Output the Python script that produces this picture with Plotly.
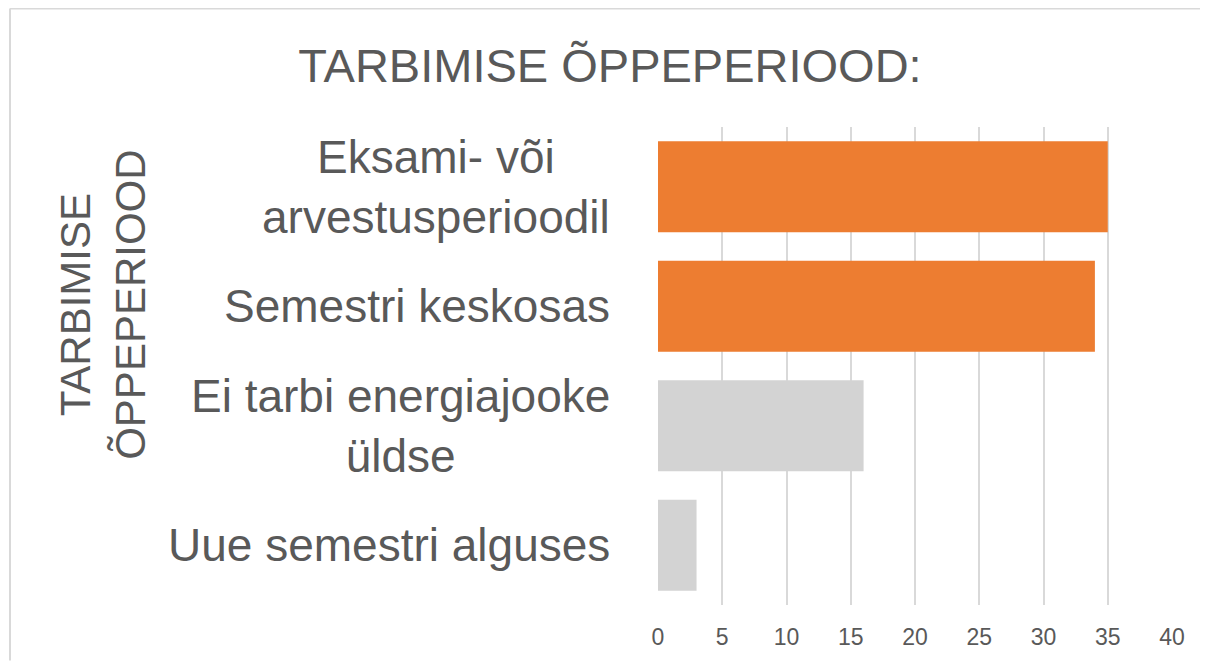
import plotly.graph_objects as go

categories = ["Eksami- või<br>arvestusperioodil", "Semestri keskosas",
              "Ei tarbi energiajooke<br>üldse", "Uue semestri alguses"]
values = [35, 34, 16, 3]
bar_colors = ["#ED7D31", "#ED7D31", "#D3D3D3", "#D3D3D3"]
x_ticks = [0, 5, 10, 15, 20, 25, 30, 35, 40]
title_text = "TARBIMISE ÕPPEPERIOOD:"
y_title = "TARBIMISE<br>ÕPPEPERIOOD"

# page has an 8px body margin; work in page coordinates and subtract it
OFF = 8
W, H = 1208 - OFF, 661 - OFF
L, R, T, B = 658 - OFF, 1208 - 1172, 127 - OFF, 661 - 605.5
pw, ph = W - L - R, H - T - B
txt = "#595959"
font = "Liberation Sans, Arial, sans-serif"

fig = go.Figure(go.Bar(
    y=categories, x=values, orientation="h",
    marker=dict(color=bar_colors, line=dict(width=0)),
    hoverinfo="x+y",
))

annotations = []
for c in categories:
    annotations.append(dict(
        x=0, xref="paper", y=c, yref="y", xanchor="right", yanchor="middle",
        xshift=-(658 - 612), text=c, showarrow=False, align="center",
        font=dict(size=46, color=txt, family=font),
    ))
annotations.append(dict(
    x=0, xref="paper", xshift=-(658 - 103), y=(605.5 - 305) / ph, yref="paper",
    xanchor="center", yanchor="middle", text=y_title, textangle=-90,
    showarrow=False, align="center",
    font=dict(size=42, color=txt, family=font),
))

px_x = lambda p: (p - 658) / pw
px_y = lambda p: (605.5 - p) / ph
border = dict(color="#D9D9D9", width=2)

fig.update_layout(
    width=W, height=H,
    margin=dict(l=L, r=R, t=T, b=B, autoexpand=False),
    paper_bgcolor="white", plot_bgcolor="white",
    bargap=0.24,
    showlegend=False,
    title=dict(text=title_text, x=(610 - OFF) / W, xanchor="center",
               y=1 - (66 - OFF) / H, yanchor="middle", yref="container",
               font=dict(size=47, color=txt, family=font)),
    xaxis=dict(range=[0, 40], tickvals=x_ticks, showgrid=True,
               gridcolor="#D9D9D9", gridwidth=1.5, zeroline=False,
               showline=False, ticks="", ticklabelstandoff=16,
               tickfont=dict(size=23, color=txt, family=font), fixedrange=True),
    yaxis=dict(autorange="reversed", showticklabels=False, showgrid=False,
               zeroline=False, showline=False, ticks="", fixedrange=True),
    annotations=annotations,
    shapes=[
        dict(type="line", xref="paper", yref="paper",
             x0=px_x(10), x1=px_x(1208), y0=px_y(8.5), y1=px_y(8.5),
             line=border, layer="below"),
        dict(type="line", xref="paper", yref="paper",
             x0=px_x(10), x1=px_x(10), y0=px_y(8.5), y1=px_y(661),
             line=border, layer="below"),
    ],
)

fig.write_html("out.html")
